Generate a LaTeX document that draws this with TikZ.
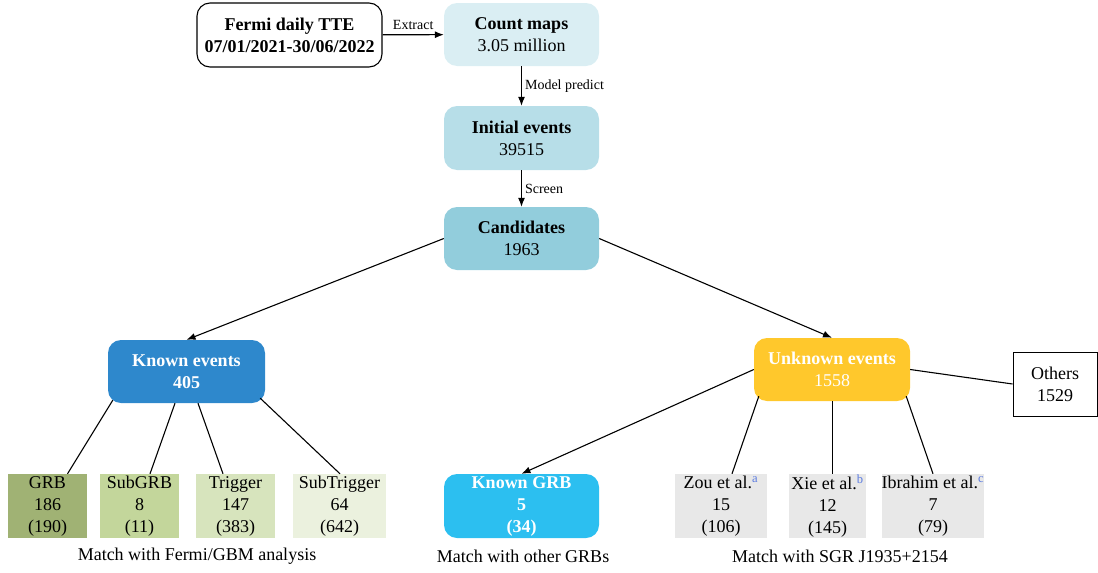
\documentclass[tikz,border=0pt]{standalone}
\usepackage{fontspec}
\setmainfont{Liberation Serif}
\usetikzlibrary{arrows.meta,calc}
\definecolor{countc}{HTML}{DAEEF3}
\definecolor{initc}{HTML}{B7DEE8}
\definecolor{candc}{HTML}{92CDDC}
\definecolor{knownc}{HTML}{2E88CC}
\definecolor{unkc}{HTML}{FFC82C}
\definecolor{kgrbc}{HTML}{2CBFF0}
\definecolor{grbc}{HTML}{A0B274}
\definecolor{subgrbc}{HTML}{C3D69B}
\definecolor{trigc}{HTML}{D7E4BD}
\definecolor{subtrigc}{HTML}{EBF1DE}
\definecolor{grayc}{HTML}{E8E8E8}
\definecolor{supc}{HTML}{5B7BE0}
\newcommand{\sups}[1]{\textsuperscript{\textcolor{supc}{#1}}}
\begin{document}
\begin{tikzpicture}[x=1pt,y=-1pt,
  every node/.style={inner sep=0pt, align=center, font=\fontsize{18}{22}\selectfont},
  rbox/.style={rounded corners=13pt, minimum height=63pt},
  sbox/.style={minimum height=64pt},
  lbl/.style={font=\fontsize{14}{16}\selectfont},
  arr/.style={line width=1.1pt, -{Latex[length=9pt,width=7pt]}},
  ln/.style={line width=1.1pt}
]
\useasboundingbox (0,0) rectangle (1098,573);

\node[rbox, draw, line width=1.1pt, minimum width=185pt, minimum height=64pt] (fermi) at (289.5,35) {\textbf{Fermi daily TTE}\\\textbf{07/01/2021-30/06/2022}};
\node[rbox, fill=countc, minimum width=155pt] (count) at (521.5,34.5) {\textbf{Count maps}\\3.05 million};
\node[rbox, fill=initc, minimum width=155pt, minimum height=64pt] (init) at (521.5,138) {\textbf{Initial events}\\39515};
\node[rbox, fill=candc, minimum width=155pt] (cand) at (521.5,238.5) {\textbf{Candidates}\\1963};
\node[rbox, fill=knownc, text=white, minimum width=157pt] (known) at (186.5,371.5) {\textbf{Known events}\\\textbf{405}};
\node[rbox, fill=unkc, text=white, minimum width=156pt] (unk) at (832,369.5) {\textbf{Unknown events}\\1558};
\node[sbox, draw, line width=1pt, minimum width=84pt] (others) at (1055,384) {Others\\1529};

\node[sbox, fill=grbc, minimum width=79pt] (grb) at (47.5,506) {GRB\\186\\(190)};
\node[sbox, fill=subgrbc, minimum width=79pt] (subgrb) at (139.5,506) {SubGRB\\8\\(11)};
\node[sbox, fill=trigc, minimum width=79pt] (trig) at (235.5,506) {Trigger\\147\\(383)};
\node[sbox, fill=subtrigc, minimum width=93pt] (subtrig) at (339.5,506) {SubTrigger\\64\\(642)};

\node[rbox, fill=kgrbc, text=white, minimum width=155pt, minimum height=64pt] (kgrb) at (521.5,506) {\textbf{Known GRB}\\\textbf{5}\\\textbf{(34)}};

\node[sbox, fill=grayc, minimum width=92pt] (zou) at (721,506) {Zou et al.\sups{a}\\15\\(106)};
\node[sbox, fill=grayc, minimum width=77pt] (xie) at (827.5,506) {Xie et al.\sups{b}\\12\\(145)};
\node[sbox, fill=grayc, minimum width=96pt] (ibr) at (933,506) {Ibrahim et al.\sups{c}\\7\\(79)};

\node (cap1) at (197,556) {Match with Fermi/GBM analysis};
\node (cap2) at (523,556) {Match with other GRBs};
\node (cap3) at (840,556) {Match with SGR J1935+2154};

% connectors
\draw[arr] (fermi) -- node[lbl, above=5pt] {Extract} (count);
\draw[arr] (count) -- node[lbl, right=3pt] {Model predict} (init);
\draw[arr] (init) -- node[lbl, right=3pt] {Screen} (cand);
\draw[arr] (cand.west) -- (known.north);
\draw[arr] (cand.east) -- (unk.north);
\draw[arr] (unk.west) -- (kgrb.north);
\draw[ln] (unk.east) -- (others.west);

\draw[ln] ($(known.south west)+(5,-3)$) -- ($(grb.north)+(20,0)$);
\draw[ln] ($(known.south)+(-11.5,0)$) -- ($(subgrb.north)+(10.5,0)$);
\draw[ln] ($(known.south)+(11.5,0)$) -- ($(trig.north)+(-12.5,0)$);
\draw[ln] ($(known.south east)+(-5,-5)$) -- ($(subtrig.north)+(0.5,0)$);

\draw[ln] ($(unk.south west)+(5,-5)$) -- ($(zou.north)+(11,0)$);
\draw[ln] ($(unk.south)+(0.5,0)$) -- ($(xie.north)+(5,0)$);
\draw[ln] ($(unk.south east)+(-4,-5)$) -- (ibr.north);
\end{tikzpicture}
\end{document}
